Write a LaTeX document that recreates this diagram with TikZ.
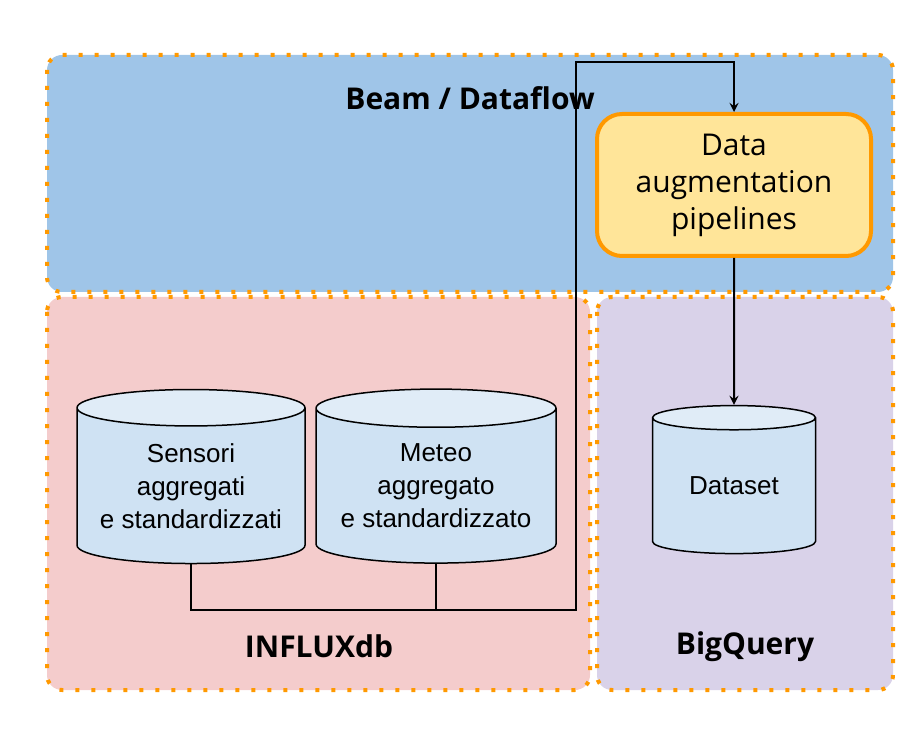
\documentclass[tikz,border=0pt]{standalone}
\usepackage{fontspec}
\setmainfont{Open Sans}
\newfontfamily\arialfont{Liberation Sans}
\usetikzlibrary{shapes.geometric,positioning}
\definecolor{beamfill}{HTML}{9FC5E8}
\definecolor{influxfill}{HTML}{F4CCCC}
\definecolor{bqfill}{HTML}{D9D2E9}
\definecolor{orangeline}{HTML}{FF9900}
\definecolor{augfill}{HTML}{FFE599}
\definecolor{dbbody}{HTML}{CFE2F3}
\definecolor{dbtop}{HTML}{E0ECF7}
\begin{document}
\begin{tikzpicture}[x=0.5pt,y=-0.5pt,>=stealth,
  region/.style={draw=orangeline,line width=2pt,dash pattern=on 2pt off 6pt,rounded corners=7.5pt},
  title/.style={font=\bfseries\fontsize{15}{18}\selectfont},
  db/.style={cylinder,shape border rotate=90,draw,line width=0.75pt,cylinder uses custom fill,
    cylinder body fill=dbbody,cylinder end fill=dbtop,align=center,inner sep=0pt,
    font=\arialfont\fontsize{13}{16.5}\selectfont},
  link/.style={line width=1pt}]
  \useasboundingbox (0,0) rectangle (919,742);
  % regions
  \draw[region,fill=beamfill](47,55) rectangle (893,292);
  \draw[region,fill=influxfill](47,297) rectangle (590,690);
  \draw[region,fill=bqfill](597,297) rectangle (893,690);
  \node[title](beam)at(470,98){Beam / Dataflow};
  \node[title](influx)at(319,646){INFLUXdb};
  \node[title](bq)at(745,647){BigQuery};
  % pipeline
  \node[draw=orangeline,fill=augfill,line width=2pt,rounded corners=12.5pt,minimum width=137pt,minimum height=71pt,
    align=center,font=\fontsize{15}{18.5}\selectfont](aug)at(734,185){Data\\augmentation\\pipelines};
  % databases
  \node[db,aspect=0.2,minimum width=114pt,minimum height=87pt](sens)at(191,486){Sensori\\aggregati\\e standardizzati};
  \node[db,aspect=0.2,minimum width=120pt,minimum height=87pt](met)at(436,486){Meteo\\aggregato\\e standardizzato};
  \node[db,aspect=0.27,minimum width=81.5pt,minimum height=74pt](ds)at(734,486){Dataset};
  % connectors
  \coordinate(bend)at(576,610);
  \coordinate(up)at(576,62);
  \draw[link](met.south)--(met.south|-bend);
  \draw[link,->](sens.south)|-(bend)--(up)-|(aug.north);
  \draw[link,->](aug.south)--(ds.north);
\end{tikzpicture}
\end{document}
